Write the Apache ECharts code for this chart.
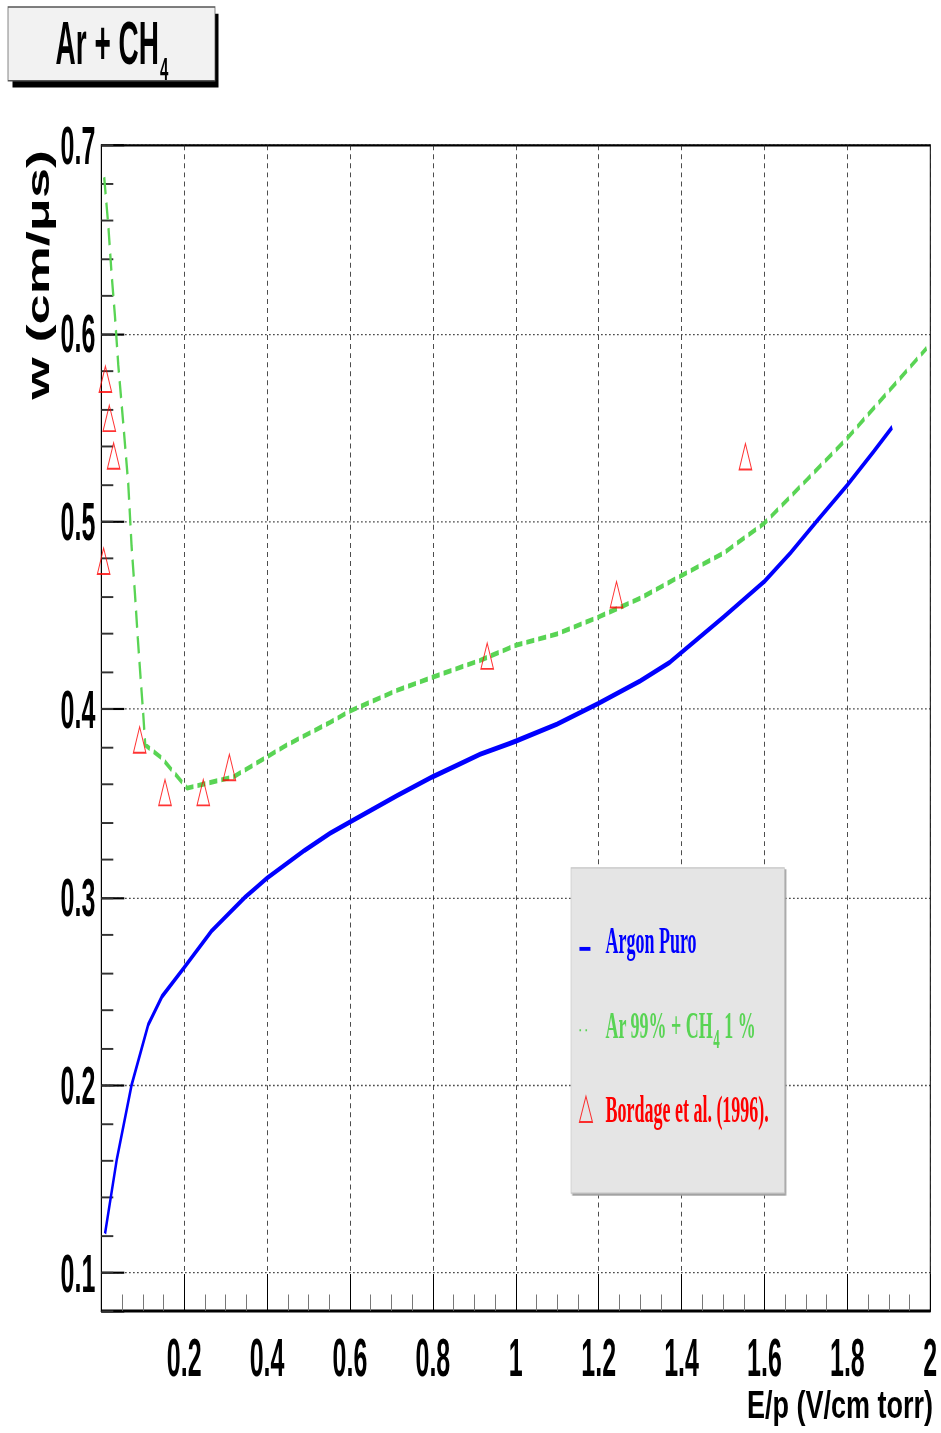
<!DOCTYPE html>
<html>
<head>
<meta charset="utf-8">
<script src="https://cdn.jsdelivr.net/npm/echarts@6/dist/echarts.min.js"></script>
<style>
html, body { margin: 0; padding: 0; background: #ffffff; overflow: hidden; }
#wrap { width: 941px; height: 1433px; overflow: hidden; position: relative; }
#chart { width: 941px; height: 666px; transform: scaleY(2.151652); transform-origin: 0 0; }
</style>
</head>
<body>
<div id="wrap"><div id="chart"></div></div>
<script>
// ---- data ----
const seriesNames = ['Argon Puro', 'Ar 99% + CH4 1 %', 'Bordage et al. (1996).'];

const argonX = [0.009, 0.037, 0.073, 0.113, 0.146, 0.198, 0.266, 0.347, 0.399, 0.491, 0.552, 0.600, 0.713, 0.799, 0.914, 1.000, 1.099, 1.199, 1.300, 1.372, 1.501, 1.600, 1.662, 1.726, 1.799, 1.863, 1.908];
const argonY = [0.121, 0.160, 0.200, 0.232, 0.247, 0.262, 0.282, 0.300, 0.310, 0.325, 0.334, 0.340, 0.354, 0.364, 0.376, 0.383, 0.392, 0.403, 0.415, 0.425, 0.449, 0.468, 0.483, 0.500, 0.519, 0.537, 0.550];

const mixX = [0.007, 0.017, 0.025, 0.033, 0.041, 0.053, 0.065, 0.073, 0.081, 0.088, 0.095, 0.101, 0.106, 0.146, 0.207, 0.319, 0.448, 0.552, 0.600, 0.713, 0.799, 0.914, 1.000, 1.099, 1.199, 1.300, 1.399, 1.501, 1.600, 1.702, 1.799, 1.903, 1.991];
const mixY = [0.683, 0.657, 0.631, 0.609, 0.583, 0.552, 0.520, 0.487, 0.462, 0.438, 0.416, 0.398, 0.381, 0.374, 0.358, 0.364, 0.381, 0.393, 0.399, 0.410, 0.417, 0.426, 0.434, 0.440, 0.449, 0.459, 0.471, 0.483, 0.499, 0.522, 0.544, 0.570, 0.592];

const bordageX = [0.0056, 0.0099, 0.0193, 0.0297, 0.0925, 0.1537, 0.246, 0.309, 0.931, 1.243, 1.554];
const bordageY = [0.4788, 0.5756, 0.5548, 0.5348, 0.3837, 0.3557, 0.3557, 0.3691, 0.4283, 0.4610, 0.5344];

const xTickValues = [0.2, 0.4, 0.6, 0.8, 1.0, 1.2, 1.4, 1.6, 1.8, 2.0];
const xTickLabels = ['0.2', '0.4', '0.6', '0.8', '1', '1.2', '1.4', '1.6', '1.8', '2'];
const yTickValues = [0.1, 0.2, 0.3, 0.4, 0.5, 0.6, 0.7];
const yTickLabels = ['0.1', '0.2', '0.3', '0.4', '0.5', '0.6', '0.7'];

const titleText = 'Ar + CH';
const titleSub = '4';
const xTitle = 'E/p (V/cm torr)';
const yTitle = 'w (cm/\u03bcs)';

// ---- colours / fonts ----
const BLUE = '#0000ff', GREEN = '#59d454', RED = '#ff0000';
const SANS = '"Liberation Sans", Arial, Helvetica, sans-serif';
const SERIF = '"Liberation Serif", "Times New Roman", serif';

function pairs(xs, ys) { return xs.map((x, i) => [x, ys[i]]); }
function lookup(values, labels) {
  return function (v) {
    const i = values.findIndex(t => Math.abs(t - v) < 1e-7);
    return i >= 0 ? labels[i] : '';
  };
}

const chart = echarts.init(document.getElementById('chart'), null, { renderer: 'svg' });

const legendRich = {
  b: { color: BLUE, fontFamily: SERIF, fontWeight: 'bold', fontSize: 18, lineHeight: 26, verticalAlign: 'middle' },
  g: { color: GREEN, fontFamily: SERIF, fontWeight: 'bold', fontSize: 18, lineHeight: 26, verticalAlign: 'middle' },
  gs: { color: GREEN, fontFamily: SERIF, fontWeight: 'bold', fontSize: 13, padding: [13, 0, 0, 0], verticalAlign: 'bottom' },
  r: { color: RED, fontFamily: SERIF, fontWeight: 'bold', fontSize: 18, lineHeight: 26, verticalAlign: 'middle' }
};

const option = {
  animation: false,
  backgroundColor: '#ffffff',
  title: {
    text: '{a|' + titleText + '}{s|' + titleSub + '}',
    left: 112, top: 0.5, padding: 0, textAlign: 'center', z: 10,
    textStyle: {
      rich: {
        a: { fontFamily: SANS, fontWeight: 'bold', fontSize: 28, lineHeight: 39, verticalAlign: 'middle', color: '#000' },
        s: { fontFamily: SANS, fontWeight: 'bold', fontSize: 15, padding: [16, 0, 0, 1], verticalAlign: 'bottom', color: '#000' }
      }
    }
  },
  grid: {
    left: 101.3, right: 10.7, top: 67.53, bottom: 56.85,
    show: true, borderColor: '#000', borderWidth: 1, backgroundColor: 'transparent',
    containLabel: false, outerBoundsMode: 'none'
  },
  legend: {
    orient: 'vertical', align: 'left', left: 571, top: 403.4,
    padding: [20.7, 15.5, 26, 8],
    itemWidth: 21, itemHeight: 12, itemGap: 13.2,
    backgroundColor: '#e5e5e5', borderColor: '#c4c4c4', borderWidth: 0.6,
    shadowColor: '#a0a0a0', shadowBlur: 0, shadowOffsetX: 1.5, shadowOffsetY: 0.9,
    selectedMode: false,
    textStyle: { fontFamily: SERIF, fontWeight: 'bold', fontSize: 18, lineHeight: 26, rich: legendRich },
    formatter: function (name) {
      if (name === seriesNames[0]) return '{b|Argon Puro}';
      if (name === seriesNames[1]) return '{g|Ar 99% + CH}{gs|4}{g| 1 %}';
      return '{r|' + name + '}';
    },
    data: [
      { name: seriesNames[0], icon: 'path://M0 0M21 12M0 9h11v1.8h-11z', itemStyle: { color: BLUE, borderWidth: 0 } },
      { name: seriesNames[1], icon: 'path://M0 0M21 12M0 8h1.6v1h-1.6zM6 8h1.6v1h-1.6z', itemStyle: { color: GREEN, borderWidth: 0 } },
      { name: seriesNames[2], icon: 'path://M0 0M21 12M6.5 0L13 12L0 12Z', itemStyle: { color: 'rgba(0,0,0,0)', borderColor: RED, borderWidth: 0.9 } }
    ]
  },
  xAxis: {
    type: 'value', min: 0, max: 2, interval: 0.2,
    axisLine: { show: true, onZero: false, lineStyle: { color: '#000', width: 1 } },
    axisTick: { show: true, inside: true, length: 17, lineStyle: { color: '#000', width: 1 } },
    minorTick: { show: true, splitNumber: 4, length: 7.5, lineStyle: { color: '#777', width: 1 } },
    splitLine: { show: true, lineStyle: { color: '#222', width: 0.8, type: [2.3, 1.9] } },
    axisLabel: {
      margin: 9, fontFamily: SANS, fontWeight: 'bold', fontSize: 25, color: '#000',
      formatter: lookup(xTickValues, xTickLabels)
    }
  },
  yAxis: [
    {
      type: 'value', min: 0.08, max: 0.7, splitNumber: 6, position: 'left',
      axisLine: { show: true, onZero: false, lineStyle: { color: '#000', width: 1 } },
      axisTick: { show: true, inside: true, length: 23, lineStyle: { color: '#000', width: 1 } },
      minorTick: { show: false },
      splitLine: { show: true, lineStyle: { color: '#000', width: 0.6, type: [1.2, 2.8] } },
      axisLabel: {
        margin: 6, fontFamily: SANS, fontWeight: 'bold', fontSize: 25, color: '#000',
        formatter: lookup(yTickValues, yTickLabels)
      }
    },
    {
      type: 'value', min: 0.08, max: 0.7, interval: 0.02, position: 'left', offset: 0,
      axisLine: { show: false },
      axisTick: { show: true, inside: true, length: 12, lineStyle: { color: '#333', width: 0.9 } },
      axisLabel: { show: false },
      splitLine: { show: false }
    }
  ],
  graphic: [
    { type: 'rect', silent: true, z: 1, shape: { x: 12.5, y: 6.4, width: 206, height: 34.3 }, style: { fill: '#000' } },
    { type: 'rect', silent: true, z: 2, shape: { x: 8, y: 3.25, width: 207, height: 34.3 }, style: { fill: '#f2f2f2', stroke: '#555', lineWidth: 0.7 } },
    {
      type: 'text', silent: true, z: 5, x: 933, y: 653, scaleX: 1.5,
      style: { text: xTitle, fill: '#000', fontFamily: SANS, fontWeight: 'bold', fontSize: 18,
               textAlign: 'right', align: 'right', textVerticalAlign: 'middle', verticalAlign: 'middle' }
    },
    {
      type: 'text', silent: true, z: 5, x: 38, y: 69.7, rotation: Math.PI / 2, scaleX: 0.786,
      style: { text: yTitle, fill: '#000', fontFamily: SANS, fontWeight: 'bold', fontSize: 32,
               textAlign: 'right', align: 'right', textVerticalAlign: 'middle', verticalAlign: 'middle' }
    }
  ],
  series: [
    {
      name: seriesNames[0], type: 'line', xAxisIndex: 0, yAxisIndex: 0,
      data: pairs(argonX, argonY), smooth: false, showSymbol: false, symbol: 'none',
      lineStyle: { color: BLUE, width: 2.4 }, itemStyle: { color: BLUE }, z: 3, silent: true
    },
    {
      name: seriesNames[1], type: 'line', xAxisIndex: 0, yAxisIndex: 0,
      data: pairs(mixX, mixY), smooth: false, showSymbol: false, symbol: 'none',
      lineStyle: { color: GREEN, width: 2.3, type: [8, 4] }, itemStyle: { color: GREEN }, z: 3, silent: true
    },
    {
      name: seriesNames[2], type: 'scatter', xAxisIndex: 0, yAxisIndex: 0,
      data: pairs(bordageX, bordageY), symbol: 'triangle', symbolSize: [12.5, 12],
      itemStyle: { color: 'rgba(0,0,0,0)', borderColor: RED, borderWidth: 0.9 }, z: 4, silent: true
    }
  ]
};

chart.setOption(option);
</script>
</body>
</html>
